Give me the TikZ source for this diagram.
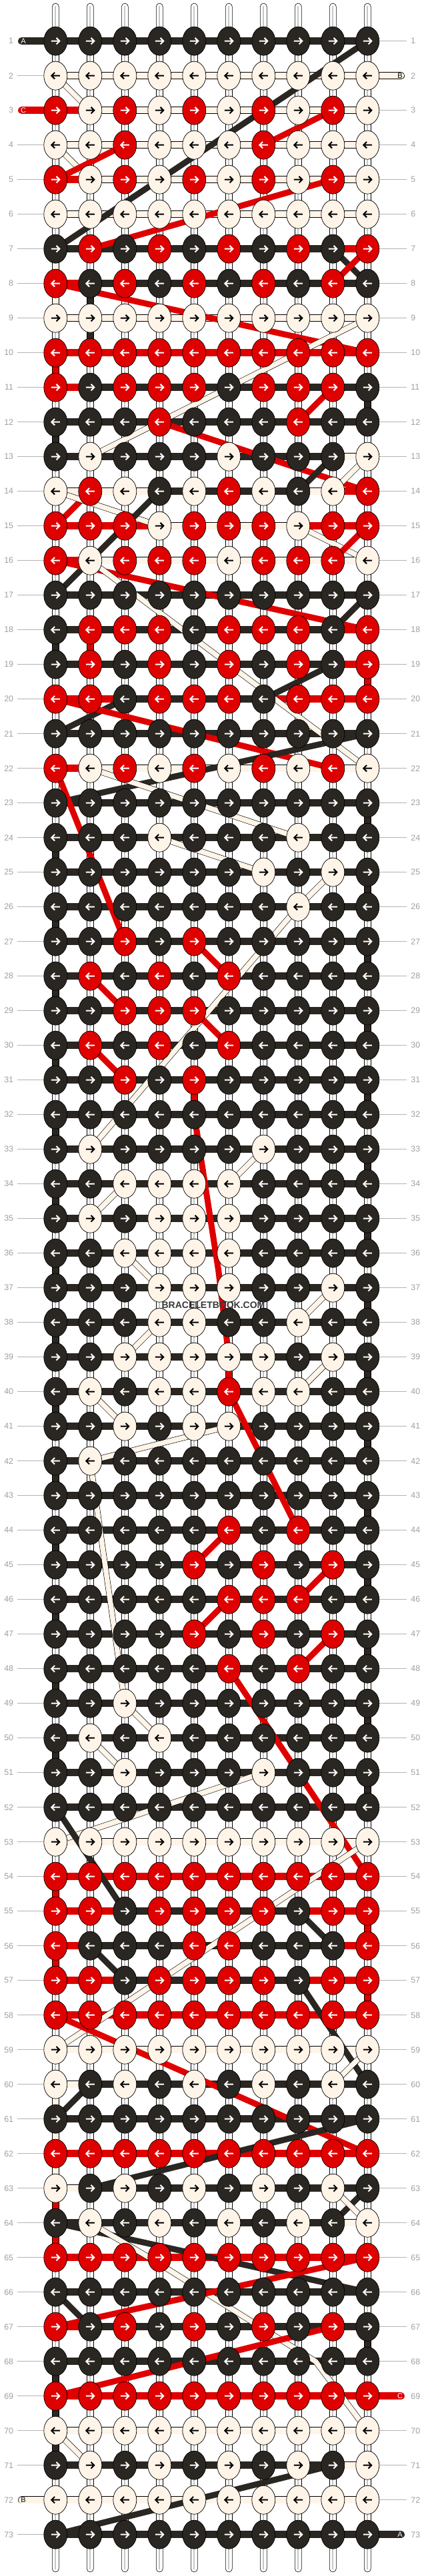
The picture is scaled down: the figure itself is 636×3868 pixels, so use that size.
\documentclass[tikz,border=0pt]{standalone}
\usepackage{fontspec}
\setmainfont{Liberation Sans}
\usetikzlibrary{shapes.geometric,calc}
\definecolor{cK}{HTML}{2A2622}
\definecolor{cR}{HTML}{DF0000}
\definecolor{cW}{HTML}{FFF4E8}
\colorlet{aK}{white}\colorlet{aR}{white}\colorlet{aW}{black}
\colorlet{oK}{cK}\colorlet{oR}{cR}\colorlet{oW}{black}
\definecolor{lbl}{HTML}{A0A0A0}
\pgfdeclarelayer{back}\pgfdeclarelayer{mid}
\pgfsetlayers{back,mid,main}
\newcommand\dg[5]{\draw[d#1] (k#3-#2.center) -- (k#5-#4.center);}
\begin{document}
\begin{tikzpicture}[x=0.5pt,y=-0.5pt,
  knot/.style={ellipse, minimum width=17.5pt, minimum height=21.5pt, inner sep=0pt, draw=black, line width=0.35pt},
  arr/.style={line width=1pt},
  stub/.style={fill=white, draw=black, line width=0.3pt},
  stripe/.style={draw=black!22, line width=0.9pt},
  bar/.style={line width=0.35pt, double distance=4.8pt},
  dK/.style={draw=cK, line width=4.5pt},
  dR/.style={draw=cR, line width=4.5pt},
  dW/.style={draw=black, line width=0.3pt, double=cW, double distance=3.8pt},
  lblL/.style={anchor=east, inner sep=0pt, text=lbl, font=\fontsize{6.2}{7}\selectfont},
  lblR/.style={anchor=west, inner sep=0pt, text=lbl, font=\fontsize{6.2}{7}\selectfont},
  lblline/.style={draw=lbl!80, line width=0.45pt},
  thr/.style={inner sep=0pt, font=\fontsize{5.5}{6}\selectfont}]
\begin{pgfonlayer}{back}
\fill[white] (0,0) rectangle (636,3868);
\end{pgfonlayer}
\useasboundingbox (0,0) rectangle (636,3868);
% knots and bars
\foreach \r/\ks/\bs in {
1/{K,K,K,K,K,K,K,K,K,K}/{K,K,K,K,K,K,K,K,K},
2/{W,W,W,W,W,W,W,W,W,W}/{W,W,W,W,W,W,W,W,W},
3/{R,W,R,W,R,W,R,W,R,W}/{R,W,W,W,W,W,W,W,W},
4/{W,W,R,W,W,W,R,W,W,W}/{W,W,W,W,W,W,W,W,W},
5/{R,W,R,W,R,W,R,W,R,W}/{R,W,W,W,W,W,W,W,W},
6/{W,W,W,W,W,W,W,W,W,W}/{W,W,W,W,W,W,W,W,W},
7/{K,R,K,R,K,R,K,R,K,R}/{K,K,K,K,K,K,K,K,R},
8/{R,K,R,K,R,K,R,K,R,K}/{R,K,K,K,K,K,K,K,K},
9/{W,W,W,W,W,W,W,W,W,W}/{W,W,W,W,W,W,W,W,W},
10/{R,R,R,R,R,R,R,R,R,R}/{R,R,R,R,R,R,R,R,R},
11/{R,K,R,R,R,K,R,R,R,K}/{R,K,K,K,K,K,K,K,K},
12/{K,K,K,R,K,K,K,R,K,K}/{K,K,K,K,K,K,K,K,K},
13/{K,W,K,K,K,W,K,K,K,W}/{K,K,K,K,K,K,K,K,W},
14/{W,R,W,K,W,R,W,K,W,R}/{W,W,W,K,K,K,K,W,R},
15/{R,R,R,W,R,R,R,W,R,R}/{R,R,R,W,W,W,W,R,R},
16/{R,W,R,R,R,W,R,R,R,W}/{R,W,W,W,W,W,W,W,W},
17/{K,K,K,K,K,K,K,K,K,K}/{K,K,K,K,K,K,K,K,K},
18/{K,R,R,R,K,R,R,R,K,R}/{K,K,K,K,K,K,K,K,R},
19/{K,R,K,R,K,R,K,R,K,R}/{K,K,K,K,K,K,K,K,R},
20/{R,R,K,R,R,R,K,R,R,R}/{R,R,K,K,K,K,R,R,R},
21/{K,K,K,K,K,K,K,K,K,K}/{K,K,K,K,K,K,K,K,K},
22/{R,W,R,W,R,W,R,W,R,W}/{R,W,W,W,W,W,W,W,W},
23/{K,K,K,K,K,K,K,K,K,K}/{K,K,K,K,K,K,K,K,K},
24/{K,K,K,W,K,K,K,W,K,K}/{K,K,K,K,K,K,K,K,K},
25/{K,K,K,K,K,K,W,K,W,K}/{K,K,K,K,K,K,K,K,K},
26/{K,K,K,K,K,K,K,W,K,K}/{K,K,K,K,K,K,K,K,K},
27/{K,K,R,K,R,K,K,K,K,K}/{K,K,K,K,K,K,K,K,K},
28/{K,R,K,R,K,R,K,K,K,K}/{K,K,K,K,K,K,K,K,K},
29/{K,K,R,R,R,K,K,K,K,K}/{K,K,K,K,K,K,K,K,K},
30/{K,R,K,R,K,R,K,K,K,K}/{K,K,K,K,K,K,K,K,K},
31/{K,K,R,K,R,K,K,K,K,K}/{K,K,K,K,K,K,K,K,K},
32/{K,K,K,K,K,K,K,K,K,K}/{K,K,K,K,K,K,K,K,K},
33/{K,W,K,K,K,K,W,K,K,K}/{K,K,K,K,K,K,K,K,K},
34/{K,K,W,W,W,W,K,K,K,K}/{K,K,K,K,K,K,K,K,K},
35/{K,W,K,W,W,W,K,K,K,K}/{K,K,K,K,K,K,K,K,K},
36/{K,K,W,W,W,W,K,K,K,K}/{K,K,K,K,K,K,K,K,K},
37/{K,K,K,W,W,W,K,K,W,K}/{K,K,K,K,K,K,K,K,K},
38/{K,K,K,W,W,K,K,W,K,K}/{K,K,K,K,K,K,K,K,K},
39/{K,K,W,W,W,W,W,K,W,K}/{K,K,K,K,K,K,K,K,K},
40/{K,W,K,W,W,R,W,W,K,K}/{K,K,K,K,K,K,K,K,K},
41/{K,K,W,K,W,W,K,K,K,K}/{K,K,K,K,K,K,K,K,K},
42/{K,W,K,K,K,K,K,K,K,K}/{K,K,K,K,K,K,K,K,K},
43/{K,K,K,K,K,K,K,K,K,K}/{K,K,K,K,K,K,K,K,K},
44/{K,K,K,K,K,R,K,R,K,K}/{K,K,K,K,K,K,K,K,K},
45/{K,K,K,K,R,K,R,K,R,K}/{K,K,K,K,K,K,K,K,K},
46/{K,K,K,K,K,R,R,R,K,K}/{K,K,K,K,K,K,K,K,K},
47/{K,K,K,K,R,K,R,K,R,K}/{K,K,K,K,K,K,K,K,K},
48/{K,K,K,K,K,R,K,R,K,K}/{K,K,K,K,K,K,K,K,K},
49/{K,K,W,K,K,K,K,K,K,K}/{K,K,K,K,K,K,K,K,K},
50/{K,W,K,W,K,K,K,K,K,K}/{K,K,K,K,K,K,K,K,K},
51/{K,K,W,K,K,K,W,K,K,K}/{K,K,K,K,K,K,K,K,K},
52/{K,K,K,K,K,K,K,K,K,K}/{K,K,K,K,K,K,K,K,K},
53/{W,W,W,W,W,W,W,W,W,W}/{W,W,W,W,W,W,W,W,W},
54/{R,R,R,R,R,R,R,R,R,R}/{R,R,R,R,R,R,R,R,R},
55/{R,R,K,R,R,R,R,K,R,R}/{R,R,K,K,K,K,K,R,R},
56/{R,K,K,K,R,R,K,K,K,R}/{R,K,K,K,K,K,K,K,R},
57/{R,R,K,R,R,R,R,K,R,R}/{R,R,K,K,K,K,K,R,R},
58/{R,R,R,R,R,R,R,R,R,R}/{R,R,R,R,R,R,R,R,R},
59/{W,W,W,W,W,W,W,W,W,W}/{W,W,W,W,W,W,W,W,W},
60/{W,K,W,K,W,K,W,K,W,K}/{W,K,K,K,K,K,K,K,K},
61/{K,K,K,K,K,K,K,K,K,K}/{K,K,K,K,K,K,K,K,K},
62/{R,R,R,R,R,R,R,R,R,R}/{R,R,R,R,R,R,R,R,R},
63/{W,K,W,K,W,K,W,K,W,K}/{W,K,K,K,K,K,K,K,K},
64/{K,W,K,W,K,W,K,W,K,W}/{K,K,K,K,K,K,K,K,W},
65/{R,R,R,R,R,R,R,R,R,R}/{R,R,R,R,R,R,R,R,R},
66/{K,K,K,K,K,K,K,K,K,K}/{K,K,K,K,K,K,K,K,K},
67/{R,K,R,K,R,K,R,K,R,K}/{R,K,K,K,K,K,K,K,K},
68/{K,K,K,K,K,K,K,K,K,K}/{K,K,K,K,K,K,K,K,K},
69/{R,R,R,R,R,R,R,R,R,R}/{R,R,R,R,R,R,R,R,R},
70/{W,W,W,W,W,W,W,W,W,W}/{W,W,W,W,W,W,W,W,W},
71/{K,W,K,W,K,W,K,W,K,W}/{K,K,K,K,K,K,K,K,W},
72/{W,W,W,W,W,W,W,W,W,W}/{W,W,W,W,W,W,W,W,W},
73/{K,K,K,K,K,K,K,K,K,K}/{K,K,K,K,K,K,K,K,K}}{
  \pgfmathsetmacro\Y{9.7+52*\r}
  \foreach \c [count=\i] in \ks {
    \pgfmathsetmacro\X{31.3+52*\i}
    \node[knot, fill=c\c] (k\r-\i) at (\X,\Y) {};
    \ifodd\r\relax
      \draw[arr, draw=a\c] (\X-6.5,\Y) -- (\X+5.5,\Y) (\X+1.2,\Y-4.8) -- (\X+6,\Y) -- (\X+1.2,\Y+4.8);
    \else
      \draw[arr, draw=a\c] (\X+6.5,\Y) -- (\X-5.5,\Y) (\X-1.2,\Y-4.8) -- (\X-6,\Y) -- (\X-1.2,\Y+4.8);
    \fi
  }
  \begin{pgfonlayer}{back}
  \foreach \b [count=\i] in \bs {
    \pgfmathtruncatemacro\j{\i+1}
    \draw[bar, draw=o\b, double=c\b] (k\r-\i.center) -- (k\r-\j.center);
  }
  \end{pgfonlayer}
  \node[lblL] (ll\r) at (20.5,\Y) {\r};
  \node[lblR] (lr\r) at (616,\Y) {\r};
}
% stubs and connectors
\begin{pgfonlayer}{back}
\foreach \c in {1,...,10}{
  \pgfmathsetmacro\X{31.3+52*\c}
  \filldraw[stub, rounded corners=2.5pt] (\X-5,5) rectangle (\X+5,55);
  \draw[stripe] (\X,9) -- (\X,50);
  \filldraw[stub, rounded corners=2.5pt] (\X-5,3812) rectangle (\X+5,3862);
  \draw[stripe] (\X,3817) -- (\X,3858);
  \foreach \r in {1,...,72}{
    \pgfmathsetmacro\Y{9.7+52*\r}
    \filldraw[stub] (\X-5,\Y+19) rectangle (\X+5,\Y+33);
    \draw[stripe] (\X,\Y+19) -- (\X,\Y+33);
  }
}
\foreach \c/\r/\cl in {1/7/W,1/8/W,2/8/K,2/9/K,1/10/R,10/11/K,1/12/K,1/18/K,2/18/R,10/19/R,10/23/K,1/24/K,
  1/54/R,10/55/R,1/56/R,10/57/R,1/60/W,1/61/W,1/62/W,1/63/R,1/64/R,10/67/K,1/68/K,1/69/K,1/70/K}{
  \pgfmathsetmacro\X{31.3+52*\c}\pgfmathsetmacro\Y{9.7+52*\r}
  \filldraw[fill=c\cl, draw=black, line width=0.3pt] (\X-5,\Y+19) rectangle (\X+5,\Y+33);
}
\foreach \r in {25,27,...,51}{
  \pgfmathsetmacro\Y{9.7+52*\r}
  \filldraw[fill=cK, draw=black, line width=0.3pt] (551.3-5,\Y+19) rectangle (551.3+5,\Y+33);
}
\foreach \r in {26,28,...,50}{
  \pgfmathsetmacro\Y{9.7+52*\r}
  \filldraw[fill=cK, draw=black, line width=0.3pt] (83.3-5,\Y+19) rectangle (83.3+5,\Y+33);
}
% label lines
\foreach \r in {1,...,73}{
  \pgfmathtruncatemacro\skL{(\r==1)||(\r==3)||(\r==72)}
  \pgfmathtruncatemacro\skR{(\r==2)||(\r==69)||(\r==73)}
  \ifnum\skL=0 \draw[lblline, shorten <=2.75pt] (ll\r.east) -- (k\r-1.west);\fi
  \ifnum\skR=0 \draw[lblline, shorten >=3pt] (k\r-10.east) -- (lr\r.west);\fi
}
% thread ends
\coordinate (A1) at (32.5,61.7);
\coordinate (C3) at (32.5,165.7);
\coordinate (B2) at (601.5,113.7);
\coordinate (C69) at (601.5,3597.7);
\coordinate (B72) at (32.5,3753.7);
\coordinate (A73) at (601.5,3805.7);
\draw[bar, draw=oK, double=cK, line cap=round] (A1) -- (k1-1.center);
\draw[bar, draw=oR, double=cR, line cap=round] (C3) -- (k3-1.center);
\draw[bar, draw=oW, double=cW, line cap=round] (B2) -- (k2-10.center);
\draw[bar, draw=oR, double=cR, line cap=round] (C69) -- (k69-10.center);
\draw[bar, draw=oW, double=cW, line cap=round] (B72) -- (k72-1.center);
\draw[bar, draw=oK, double=cK, line cap=round] (A73) -- (k73-10.center);
\end{pgfonlayer}
\node[thr, text=white] (tA1) at (35,61.7) {A};
\node[thr, text=white] (tC3) at (35,165.7) {C};
\node[thr, text=black] (tB2) at (600,113.7) {B};
\node[thr, text=white] (tC69) at (600,3597.7) {C};
\node[thr, text=black] (tB72) at (35,3753.7) {B};
\node[thr, text=white] (tA73) at (600,3805.7) {A};
% diagonal threads
\begin{pgfonlayer}{mid}
\dg{K}{10}{1}{1}{7}
\dg{W}{1}{2}{2}{3}
\dg{W}{1}{4}{2}{5}
\dg{R}{7}{4}{9}{3}
\dg{R}{1}{5}{3}{4}
\dg{R}{9}{5}{2}{7}
\dg{K}{9}{7}{10}{8}
\dg{R}{9}{8}{10}{7}
\dg{R}{1}{8}{10}{10}
\dg{W}{10}{9}{2}{13}
\dg{R}{8}{12}{9}{11}
\dg{R}{4}{12}{10}{14}
\dg{K}{9}{13}{8}{14}
\dg{W}{10}{13}{9}{14}
\dg{R}{1}{15}{2}{14}
\dg{W}{1}{14}{4}{15}
\dg{K}{4}{14}{1}{17}
\dg{W}{8}{15}{10}{16}
\dg{R}{10}{15}{9}{16}
\dg{R}{1}{16}{10}{18}
\dg{W}{2}{16}{10}{22}
\dg{K}{10}{17}{9}{18}
\dg{K}{9}{19}{7}{20}
\dg{K}{3}{20}{1}{21}
\dg{R}{1}{20}{9}{22}
\dg{K}{10}{21}{1}{23}
\dg{R}{1}{22}{3}{27}
\dg{W}{2}{22}{8}{24}
\dg{W}{4}{24}{7}{25}
\dg{W}{9}{25}{8}{26}
\dg{W}{8}{26}{2}{33}
\dg{R}{5}{27}{6}{28}
\dg{R}{2}{28}{3}{29}
\dg{R}{5}{29}{6}{30}
\dg{R}{2}{30}{3}{31}
\coordinate (rb1) at (327.7,1907.7);
\draw[dR] (k31-5.center) -- (k32-5.center) -- (rb1) -- (k39-6.center) -- (k40-6.center);
\dg{W}{7}{33}{6}{34}
\dg{W}{3}{34}{2}{35}
\dg{W}{3}{36}{4}{37}
\dg{W}{9}{37}{8}{38}
\dg{W}{4}{38}{3}{39}
\dg{W}{9}{39}{8}{40}
\dg{W}{2}{40}{3}{41}
\dg{R}{6}{40}{8}{44}
\dg{W}{6}{41}{2}{42}
\dg{W}{2}{42}{3}{49}
\dg{R}{5}{45}{6}{44}
\dg{R}{8}{46}{9}{45}
\dg{R}{5}{47}{6}{46}
\dg{R}{8}{48}{9}{47}
\dg{R}{6}{48}{10}{54}
\dg{W}{3}{49}{4}{50}
\dg{W}{2}{50}{3}{51}
\dg{W}{7}{51}{1}{53}
\dg{K}{1}{52}{3}{55}
\dg{W}{10}{53}{1}{59}
\dg{K}{8}{55}{9}{56}
\dg{K}{2}{56}{3}{57}
\dg{K}{8}{57}{10}{60}
\dg{R}{1}{58}{10}{62}
\dg{W}{9}{60}{10}{59}
\dg{K}{2}{60}{1}{61}
\dg{K}{10}{61}{2}{63}
\dg{K}{10}{63}{9}{64}
\dg{W}{9}{63}{10}{64}
\dg{K}{1}{64}{10}{66}
\coordinate (wb1) at (223.7,3389.7);
\coordinate (wb2) at (473.3,3545.7);
\draw[dW] (k64-2.center) -- (wb1) -- (wb2) -- (k70-10.center);
\dg{K}{1}{66}{2}{67}
\dg{R}{10}{65}{1}{67}
\dg{R}{9}{67}{1}{69}
\dg{W}{1}{70}{2}{71}
\dg{K}{9}{71}{1}{73}
\end{pgfonlayer}
\node[font=\bfseries\fontsize{7}{8}\selectfont, text=black!78, inner sep=0pt] (wm) at (320,1959.7) {BRACELETBOOK.COM};
\end{tikzpicture}
\end{document}
